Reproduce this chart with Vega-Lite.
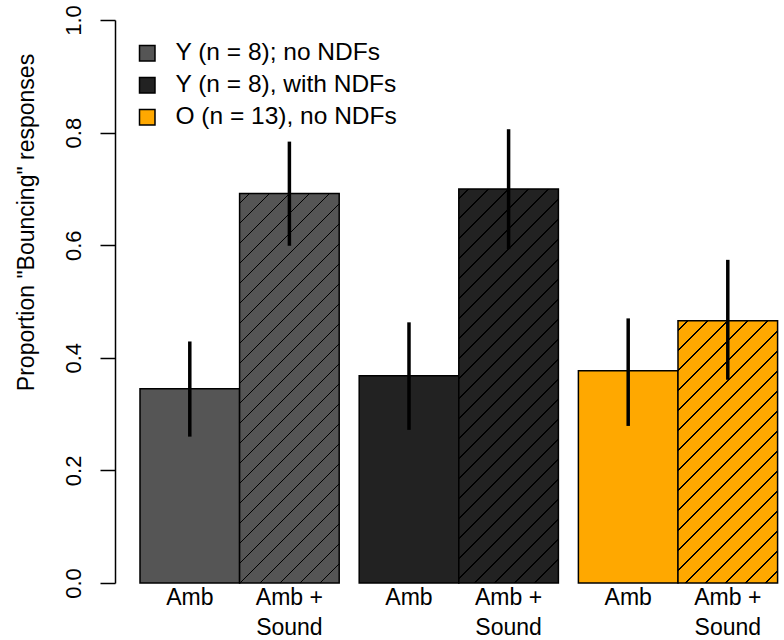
{
  "$schema": "https://vega.github.io/schema/vega-lite/v6.json",
  "autosize": {"type": "none"},
  "padding": {"left": 130, "top": 20, "right": 2, "bottom": 57},
  "width": 652,
  "height": 563,
  "background": "white",
  "config": {
    "view": {"stroke": null},
    "font": "Liberation Sans",
    "axisY": {
      "tickCount": 5,
      "format": ".1f",
      "offset": 15,
      "grid": false,
      "ticks": true,
      "tickSize": 15,
      "tickWidth": 1.5,
      "tickColor": "black",
      "domainColor": "black",
      "domainWidth": 1.5,
      "labelAngle": 270,
      "labelAlign": "center",
      "labelBaseline": "alphabetic",
      "labelPadding": 20,
      "labelFontSize": 22,
      "labelColor": "black",
      "labelFlush": false,
      "labelOverlap": false,
      "titleFontSize": 23,
      "titleFontWeight": "normal",
      "titleColor": "black",
      "titleAngle": 270,
      "titleAlign": "center",
      "titleBaseline": "alphabetic",
      "titleX": -82,
      "titleY": 202
    }
  },
  "data": {
    "values": [
      {"group": "Y (n = 8); no NDFs", "condition": "Amb", "p": 0.345, "lo": 0.260, "hi": 0.429},
      {"group": "Y (n = 8); no NDFs", "condition": "Amb +\nSound", "p": 0.692, "lo": 0.599, "hi": 0.784},
      {"group": "Y (n = 8), with NDFs", "condition": "Amb", "p": 0.368, "lo": 0.272, "hi": 0.463},
      {"group": "Y (n = 8), with NDFs", "condition": "Amb +\nSound", "p": 0.700, "lo": 0.593, "hi": 0.806},
      {"group": "O (n = 13), no NDFs", "condition": "Amb", "p": 0.377, "lo": 0.279, "hi": 0.470},
      {"group": "O (n = 13), no NDFs", "condition": "Amb +\nSound", "p": 0.466, "lo": 0.361, "hi": 0.574}
    ]
  },
  "encoding": {
    "x": {
      "field": "group", "type": "nominal",
      "sort": ["Y (n = 8); no NDFs", "Y (n = 8), with NDFs", "O (n = 13), no NDFs"],
      "scale": {"paddingInner": 0.09124, "paddingOuter": 0.03285, "align": 0.694},
      "axis": null
    },
    "xOffset": {
      "field": "condition", "type": "nominal",
      "sort": ["Amb", "Amb +\nSound"],
      "scale": {"paddingInner": 0, "paddingOuter": 0}
    },
    "y": {
      "field": "p", "type": "quantitative", "scale": {"domain": [0, 1], "nice": false},
      "title": "Proportion \"Bouncing\" responses"
    }
  },
  "layer": [
    {
      "transform": [{"filter": "datum.condition == 'Amb'"}],
      "mark": {"type": "bar", "stroke": "black", "strokeWidth": 1.5, "fillOpacity": 1},
      "encoding": {
        "fill": {
          "field": "group", "type": "nominal",
          "scale": {"domain": ["Y (n = 8); no NDFs", "Y (n = 8), with NDFs", "O (n = 13), no NDFs"], "range": ["#555555", "#222222", "#FFA800"]},
          "legend": {
            "orient": "none", "legendX": 5, "legendY": 21, "title": null, "padding": 0,
            "symbolType": "square", "symbolSize": 240, "symbolStrokeColor": "black", "symbolStrokeWidth": 1.5,
            "symbolOpacity": 1, "symbolFillOpacity": 1,
            "labelFontSize": 24.5, "labelColor": "black", "labelOffset": 16, "rowPadding": 7, "labelLimit": 400
          }
        }
      }
    },
    {
      "transform": [{"filter": "datum.condition != 'Amb' && datum.group == 'Y (n = 8); no NDFs'"}],
      "mark": {
        "type": "bar", "stroke": "black", "strokeWidth": 1.5,
        "fill": {
          "gradient": "linear", "x1": 0, "y1": 0, "x2": 0.30131, "y2": 1.17862,
          "stops": [
            {"offset": 0.01860, "color": "#555555"}, {"offset": 0.01860, "color": "#000000"}, {"offset": 0.02228, "color": "#000000"}, {"offset": 0.02228, "color": "#555555"},
            {"offset": 0.05949, "color": "#555555"}, {"offset": 0.05949, "color": "#000000"}, {"offset": 0.06317, "color": "#000000"}, {"offset": 0.06317, "color": "#555555"},
            {"offset": 0.10037, "color": "#555555"}, {"offset": 0.10037, "color": "#000000"}, {"offset": 0.10405, "color": "#000000"}, {"offset": 0.10405, "color": "#555555"},
            {"offset": 0.14125, "color": "#555555"}, {"offset": 0.14125, "color": "#000000"}, {"offset": 0.14493, "color": "#000000"}, {"offset": 0.14493, "color": "#555555"},
            {"offset": 0.18213, "color": "#555555"}, {"offset": 0.18213, "color": "#000000"}, {"offset": 0.18581, "color": "#000000"}, {"offset": 0.18581, "color": "#555555"},
            {"offset": 0.22302, "color": "#555555"}, {"offset": 0.22302, "color": "#000000"}, {"offset": 0.22670, "color": "#000000"}, {"offset": 0.22670, "color": "#555555"},
            {"offset": 0.26390, "color": "#555555"}, {"offset": 0.26390, "color": "#000000"}, {"offset": 0.26758, "color": "#000000"}, {"offset": 0.26758, "color": "#555555"},
            {"offset": 0.30478, "color": "#555555"}, {"offset": 0.30478, "color": "#000000"}, {"offset": 0.30846, "color": "#000000"}, {"offset": 0.30846, "color": "#555555"},
            {"offset": 0.34567, "color": "#555555"}, {"offset": 0.34567, "color": "#000000"}, {"offset": 0.34935, "color": "#000000"}, {"offset": 0.34935, "color": "#555555"},
            {"offset": 0.38655, "color": "#555555"}, {"offset": 0.38655, "color": "#000000"}, {"offset": 0.39023, "color": "#000000"}, {"offset": 0.39023, "color": "#555555"},
            {"offset": 0.42743, "color": "#555555"}, {"offset": 0.42743, "color": "#000000"}, {"offset": 0.43111, "color": "#000000"}, {"offset": 0.43111, "color": "#555555"},
            {"offset": 0.46832, "color": "#555555"}, {"offset": 0.46832, "color": "#000000"}, {"offset": 0.47200, "color": "#000000"}, {"offset": 0.47200, "color": "#555555"},
            {"offset": 0.50920, "color": "#555555"}, {"offset": 0.50920, "color": "#000000"}, {"offset": 0.51288, "color": "#000000"}, {"offset": 0.51288, "color": "#555555"},
            {"offset": 0.55008, "color": "#555555"}, {"offset": 0.55008, "color": "#000000"}, {"offset": 0.55376, "color": "#000000"}, {"offset": 0.55376, "color": "#555555"},
            {"offset": 0.59096, "color": "#555555"}, {"offset": 0.59096, "color": "#000000"}, {"offset": 0.59464, "color": "#000000"}, {"offset": 0.59464, "color": "#555555"},
            {"offset": 0.63185, "color": "#555555"}, {"offset": 0.63185, "color": "#000000"}, {"offset": 0.63553, "color": "#000000"}, {"offset": 0.63553, "color": "#555555"},
            {"offset": 0.67273, "color": "#555555"}, {"offset": 0.67273, "color": "#000000"}, {"offset": 0.67641, "color": "#000000"}, {"offset": 0.67641, "color": "#555555"},
            {"offset": 0.71361, "color": "#555555"}, {"offset": 0.71361, "color": "#000000"}, {"offset": 0.71729, "color": "#000000"}, {"offset": 0.71729, "color": "#555555"},
            {"offset": 0.75450, "color": "#555555"}, {"offset": 0.75450, "color": "#000000"}, {"offset": 0.75818, "color": "#000000"}, {"offset": 0.75818, "color": "#555555"},
            {"offset": 0.79538, "color": "#555555"}, {"offset": 0.79538, "color": "#000000"}, {"offset": 0.79906, "color": "#000000"}, {"offset": 0.79906, "color": "#555555"},
            {"offset": 0.83626, "color": "#555555"}, {"offset": 0.83626, "color": "#000000"}, {"offset": 0.83994, "color": "#000000"}, {"offset": 0.83994, "color": "#555555"},
            {"offset": 0.87715, "color": "#555555"}, {"offset": 0.87715, "color": "#000000"}, {"offset": 0.88083, "color": "#000000"}, {"offset": 0.88083, "color": "#555555"},
            {"offset": 0.91803, "color": "#555555"}, {"offset": 0.91803, "color": "#000000"}, {"offset": 0.92171, "color": "#000000"}, {"offset": 0.92171, "color": "#555555"},
            {"offset": 0.95891, "color": "#555555"}, {"offset": 0.95891, "color": "#000000"}, {"offset": 0.96259, "color": "#000000"}, {"offset": 0.96259, "color": "#555555"}
          ]
        }
      }
    },
    {
      "transform": [{"filter": "datum.condition != 'Amb' && datum.group == 'Y (n = 8), with NDFs'"}],
      "mark": {
        "type": "bar", "stroke": "black", "strokeWidth": 1.5,
        "fill": {
          "gradient": "linear", "x1": 0, "y1": 0, "x2": 0.29759, "y2": 1.17750,
          "stops": [
            {"offset": 0.01843, "color": "#222222"}, {"offset": 0.01843, "color": "#000000"}, {"offset": 0.02208, "color": "#000000"}, {"offset": 0.02208, "color": "#222222"},
            {"offset": 0.05894, "color": "#222222"}, {"offset": 0.05894, "color": "#000000"}, {"offset": 0.06259, "color": "#000000"}, {"offset": 0.06259, "color": "#222222"},
            {"offset": 0.09945, "color": "#222222"}, {"offset": 0.09945, "color": "#000000"}, {"offset": 0.10310, "color": "#000000"}, {"offset": 0.10310, "color": "#222222"},
            {"offset": 0.13996, "color": "#222222"}, {"offset": 0.13996, "color": "#000000"}, {"offset": 0.14361, "color": "#000000"}, {"offset": 0.14361, "color": "#222222"},
            {"offset": 0.18047, "color": "#222222"}, {"offset": 0.18047, "color": "#000000"}, {"offset": 0.18412, "color": "#000000"}, {"offset": 0.18412, "color": "#222222"},
            {"offset": 0.22098, "color": "#222222"}, {"offset": 0.22098, "color": "#000000"}, {"offset": 0.22463, "color": "#000000"}, {"offset": 0.22463, "color": "#222222"},
            {"offset": 0.26149, "color": "#222222"}, {"offset": 0.26149, "color": "#000000"}, {"offset": 0.26514, "color": "#000000"}, {"offset": 0.26514, "color": "#222222"},
            {"offset": 0.30200, "color": "#222222"}, {"offset": 0.30200, "color": "#000000"}, {"offset": 0.30565, "color": "#000000"}, {"offset": 0.30565, "color": "#222222"},
            {"offset": 0.34251, "color": "#222222"}, {"offset": 0.34251, "color": "#000000"}, {"offset": 0.34616, "color": "#000000"}, {"offset": 0.34616, "color": "#222222"},
            {"offset": 0.38302, "color": "#222222"}, {"offset": 0.38302, "color": "#000000"}, {"offset": 0.38667, "color": "#000000"}, {"offset": 0.38667, "color": "#222222"},
            {"offset": 0.42353, "color": "#222222"}, {"offset": 0.42353, "color": "#000000"}, {"offset": 0.42718, "color": "#000000"}, {"offset": 0.42718, "color": "#222222"},
            {"offset": 0.46404, "color": "#222222"}, {"offset": 0.46404, "color": "#000000"}, {"offset": 0.46769, "color": "#000000"}, {"offset": 0.46769, "color": "#222222"},
            {"offset": 0.50455, "color": "#222222"}, {"offset": 0.50455, "color": "#000000"}, {"offset": 0.50820, "color": "#000000"}, {"offset": 0.50820, "color": "#222222"},
            {"offset": 0.54506, "color": "#222222"}, {"offset": 0.54506, "color": "#000000"}, {"offset": 0.54871, "color": "#000000"}, {"offset": 0.54871, "color": "#222222"},
            {"offset": 0.58557, "color": "#222222"}, {"offset": 0.58557, "color": "#000000"}, {"offset": 0.58922, "color": "#000000"}, {"offset": 0.58922, "color": "#222222"},
            {"offset": 0.62608, "color": "#222222"}, {"offset": 0.62608, "color": "#000000"}, {"offset": 0.62973, "color": "#000000"}, {"offset": 0.62973, "color": "#222222"},
            {"offset": 0.66659, "color": "#222222"}, {"offset": 0.66659, "color": "#000000"}, {"offset": 0.67024, "color": "#000000"}, {"offset": 0.67024, "color": "#222222"},
            {"offset": 0.70710, "color": "#222222"}, {"offset": 0.70710, "color": "#000000"}, {"offset": 0.71075, "color": "#000000"}, {"offset": 0.71075, "color": "#222222"},
            {"offset": 0.74761, "color": "#222222"}, {"offset": 0.74761, "color": "#000000"}, {"offset": 0.75126, "color": "#000000"}, {"offset": 0.75126, "color": "#222222"},
            {"offset": 0.78812, "color": "#222222"}, {"offset": 0.78812, "color": "#000000"}, {"offset": 0.79177, "color": "#000000"}, {"offset": 0.79177, "color": "#222222"},
            {"offset": 0.82863, "color": "#222222"}, {"offset": 0.82863, "color": "#000000"}, {"offset": 0.83228, "color": "#000000"}, {"offset": 0.83228, "color": "#222222"},
            {"offset": 0.86914, "color": "#222222"}, {"offset": 0.86914, "color": "#000000"}, {"offset": 0.87279, "color": "#000000"}, {"offset": 0.87279, "color": "#222222"},
            {"offset": 0.90965, "color": "#222222"}, {"offset": 0.90965, "color": "#000000"}, {"offset": 0.91330, "color": "#000000"}, {"offset": 0.91330, "color": "#222222"},
            {"offset": 0.95016, "color": "#222222"}, {"offset": 0.95016, "color": "#000000"}, {"offset": 0.95381, "color": "#000000"}, {"offset": 0.95381, "color": "#222222"}
          ]
        }
      }
    },
    {
      "transform": [{"filter": "datum.condition != 'Amb' && datum.group == 'O (n = 13), no NDFs'"}],
      "mark": {
        "type": "bar", "stroke": "black", "strokeWidth": 1.5,
        "fill": {
          "gradient": "linear", "x1": 0, "y1": 0, "x2": 0.45770, "y2": 1.20583,
          "stops": [
            {"offset": 0.02514, "color": "#FFA800"}, {"offset": 0.02514, "color": "#000000"}, {"offset": 0.03011, "color": "#000000"}, {"offset": 0.03011, "color": "#FFA800"},
            {"offset": 0.08039, "color": "#FFA800"}, {"offset": 0.08039, "color": "#000000"}, {"offset": 0.08536, "color": "#000000"}, {"offset": 0.08536, "color": "#FFA800"},
            {"offset": 0.13564, "color": "#FFA800"}, {"offset": 0.13564, "color": "#000000"}, {"offset": 0.14061, "color": "#000000"}, {"offset": 0.14061, "color": "#FFA800"},
            {"offset": 0.19088, "color": "#FFA800"}, {"offset": 0.19088, "color": "#000000"}, {"offset": 0.19585, "color": "#000000"}, {"offset": 0.19585, "color": "#FFA800"},
            {"offset": 0.24613, "color": "#FFA800"}, {"offset": 0.24613, "color": "#000000"}, {"offset": 0.25110, "color": "#000000"}, {"offset": 0.25110, "color": "#FFA800"},
            {"offset": 0.30138, "color": "#FFA800"}, {"offset": 0.30138, "color": "#000000"}, {"offset": 0.30635, "color": "#000000"}, {"offset": 0.30635, "color": "#FFA800"},
            {"offset": 0.35663, "color": "#FFA800"}, {"offset": 0.35663, "color": "#000000"}, {"offset": 0.36160, "color": "#000000"}, {"offset": 0.36160, "color": "#FFA800"},
            {"offset": 0.41188, "color": "#FFA800"}, {"offset": 0.41188, "color": "#000000"}, {"offset": 0.41685, "color": "#000000"}, {"offset": 0.41685, "color": "#FFA800"},
            {"offset": 0.46713, "color": "#FFA800"}, {"offset": 0.46713, "color": "#000000"}, {"offset": 0.47210, "color": "#000000"}, {"offset": 0.47210, "color": "#FFA800"},
            {"offset": 0.52238, "color": "#FFA800"}, {"offset": 0.52238, "color": "#000000"}, {"offset": 0.52735, "color": "#000000"}, {"offset": 0.52735, "color": "#FFA800"},
            {"offset": 0.57762, "color": "#FFA800"}, {"offset": 0.57762, "color": "#000000"}, {"offset": 0.58259, "color": "#000000"}, {"offset": 0.58259, "color": "#FFA800"},
            {"offset": 0.63287, "color": "#FFA800"}, {"offset": 0.63287, "color": "#000000"}, {"offset": 0.63784, "color": "#000000"}, {"offset": 0.63784, "color": "#FFA800"},
            {"offset": 0.68812, "color": "#FFA800"}, {"offset": 0.68812, "color": "#000000"}, {"offset": 0.69309, "color": "#000000"}, {"offset": 0.69309, "color": "#FFA800"},
            {"offset": 0.74337, "color": "#FFA800"}, {"offset": 0.74337, "color": "#000000"}, {"offset": 0.74834, "color": "#000000"}, {"offset": 0.74834, "color": "#FFA800"},
            {"offset": 0.79862, "color": "#FFA800"}, {"offset": 0.79862, "color": "#000000"}, {"offset": 0.80359, "color": "#000000"}, {"offset": 0.80359, "color": "#FFA800"},
            {"offset": 0.85387, "color": "#FFA800"}, {"offset": 0.85387, "color": "#000000"}, {"offset": 0.85884, "color": "#000000"}, {"offset": 0.85884, "color": "#FFA800"},
            {"offset": 0.90911, "color": "#FFA800"}, {"offset": 0.90911, "color": "#000000"}, {"offset": 0.91408, "color": "#000000"}, {"offset": 0.91408, "color": "#FFA800"},
            {"offset": 0.96436, "color": "#FFA800"}, {"offset": 0.96436, "color": "#000000"}, {"offset": 0.96933, "color": "#000000"}, {"offset": 0.96933, "color": "#FFA800"}
          ]
        }
      }
    },
    {
      "mark": {"type": "rule", "color": "black", "strokeWidth": 3.5},
      "encoding": {
        "y": {"field": "lo", "type": "quantitative", "title": "Proportion \"Bouncing\" responses"},
        "y2": {"field": "hi"}
      }
    },
    {
      "mark": {"type": "text", "fontSize": 23, "color": "black", "align": "center", "baseline": "alphabetic", "dy": 22, "lineBreak": "\n", "lineHeight": 30},
      "encoding": {
        "y": {"datum": 0, "type": "quantitative", "title": "Proportion \"Bouncing\" responses"},
        "text": {"field": "condition", "type": "nominal"}
      }
    }
  ]
}
